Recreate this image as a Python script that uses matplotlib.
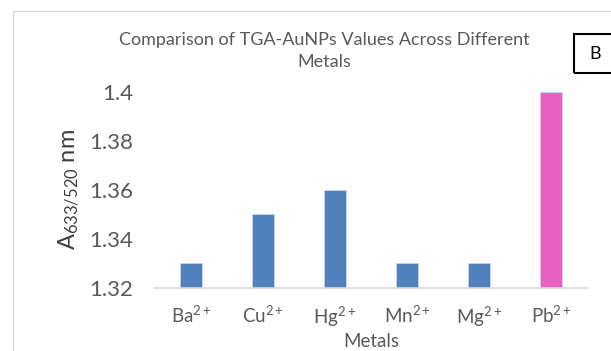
import matplotlib.pyplot as plt
from matplotlib.patches import Rectangle

plt.rcParams['font.family'] = ['Lato', 'DejaVu Sans']
plt.rcParams['mathtext.fontset'] = 'custom'
plt.rcParams['mathtext.rm'] = 'Lato'
plt.rcParams['mathtext.it'] = 'Lato'

# absorbance ratio A633/A520 for each metal ion
metals = ['Ba', 'Cu', 'Hg', 'Mn', 'Mg', 'Pb']
ratio = [1.33, 1.35, 1.36, 1.33, 1.33, 1.40]
bar_colors = ['#4f81bd', '#4f81bd', '#4f81bd', '#4f81bd', '#4f81bd', '#e860c2']
yticks = [1.32, 1.34, 1.36, 1.38, 1.4]
ymin, ymax = 1.32, 1.4

W, H = 611, 351
fig = plt.figure(figsize=(W / 100, H / 100), dpi=100)
ax = fig.add_axes([155 / W, (H - 288) / H, 432 / W, 196 / H])

heights = [v - ymin for v in ratio]
bars = ax.bar(range(len(metals)), heights, bottom=ymin, width=0.31,
              color=bar_colors, edgecolor='#c9d6ec', linewidth=0.6)
for b in bars:
    b.set_clip_on(False)

ax.set_xlim(-0.5, len(metals) - 0.5)
ax.set_ylim(ymin, ymax)
ax.set_yticks(yticks)
ax.set_yticklabels([f'{t:g}' for t in yticks])
ax.set_xticks(range(len(metals)))
ax.set_xticklabels([r'$\mathregular{%s^{2+}}$' % m for m in metals])

ax.tick_params(axis='y', length=0, pad=15.5, labelsize=16, labelcolor='#595959')
ax.tick_params(axis='x', length=0, pad=12, labelsize=13.5, labelcolor='#595959')
for side in ['top', 'right', 'left']:
    ax.spines[side].set_visible(False)
ax.spines['bottom'].set_color('#d9d9d9')
ax.spines['bottom'].set_linewidth(1.2)

ax.set_xlabel('Metals', fontsize=13.5, color='#595959', labelpad=3)
ax.set_ylabel(r'$\mathregular{A_{633/520}}$ nm', fontsize=17, color='#404040', labelpad=6)

fig.text(324 / W, (H - 51) / H, 'Comparison of TGA-AuNPs Values Across Different\nMetals',
         ha='center', va='center', fontsize=13, color='#595959', linespacing=1.4)

# chart area outline
fig.patches.append(Rectangle((13 / W, -0.1), 1.2, (H - 11) / H + 0.1,
                             transform=fig.transFigure, fill=False,
                             edgecolor='#d9d9d9', linewidth=1.0))

# panel letter box
fig.patches.append(Rectangle((574 / W, (H - 73) / H), 0.2, 39 / H,
                             transform=fig.transFigure, fill=False,
                             edgecolor='black', linewidth=1.5))
fig.text(595 / W, (H - 54) / H, 'B', ha='center', va='center',
         fontsize=13, color='black')

fig.savefig('out.png', dpi=100)
